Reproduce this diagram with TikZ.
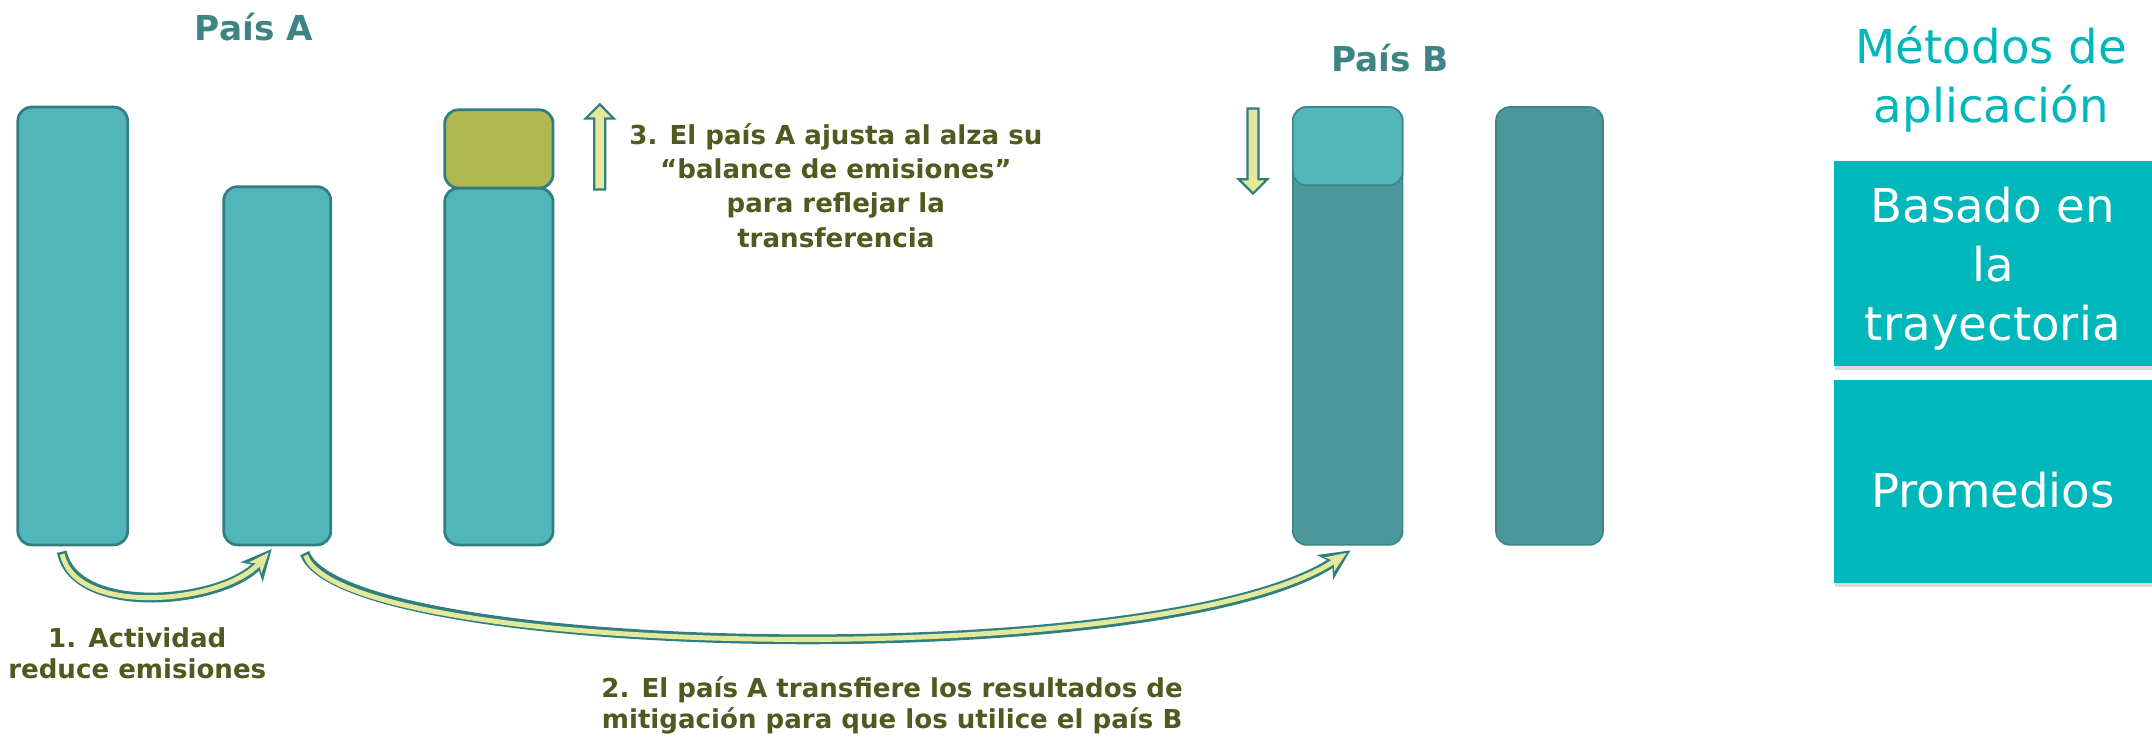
\documentclass[tikz,border=0pt]{standalone}
\usepackage{fontspec}
\setmainfont{DejaVu Sans}
\usetikzlibrary{shapes.arrows,arrows.meta,shadows}
\definecolor{tealL}{HTML}{52B5BA}
\definecolor{tealB}{HTML}{2F7E80}
\definecolor{tealD}{HTML}{4A989B}
\definecolor{tealDB}{HTML}{3E8587}
\definecolor{oliveF}{HTML}{B0B850}
\definecolor{ylw}{HTML}{E3E89A}
\definecolor{txtOl}{HTML}{4F5A1F}
\definecolor{titT}{HTML}{3D8585}
\definecolor{aqua}{HTML}{00B7BB}
\tikzset{
  bar/.style={draw=tealB, line width=1pt, fill=tealL, rounded corners=5pt, inner sep=0pt, outer sep=0pt, anchor=north west},
  darkbar/.style={draw=tealDB, line width=0.6pt, fill=tealD, rounded corners=5pt, inner sep=0pt, outer sep=0pt, anchor=north west},
  olivebox/.style={draw=tealB, line width=1pt, fill=oliveF, rounded corners=5pt, inner sep=0pt, outer sep=0pt, anchor=north west},
  lightbox/.style={draw=tealDB, line width=0.6pt, fill=tealL, rounded corners=5pt, inner sep=0pt, outer sep=0pt, anchor=north west},
  lbl/.style={text=txtOl, font=\bfseries\fontsize{9.5}{11}\selectfont, align=center, inner sep=0pt},
  lblb/.style={text=txtOl, font=\bfseries\fontsize{9.5}{12.5}\selectfont, align=center, inner sep=0pt},
  ctitle/.style={text=titT, font=\bfseries\fontsize{12.5}{15}\selectfont, inner sep=0pt},
  method/.style={fill=aqua, inner sep=0pt, outer sep=0pt, anchor=north west,
    drop shadow={shadow xshift=0.6pt, shadow yshift=-1.2pt, opacity=0.3}},
  methodtext/.style={text=white, inner sep=0pt, align=center, font=\fontsize{17}{21.5}\selectfont},
  blockarrow/.style={single arrow, draw=tealB, fill=ylw, line width=0.8pt, inner sep=1.6pt,
    single arrow head extend=3.2pt, single arrow head indent=0pt, minimum height=31pt},
  curveout/.style={draw=tealB, line width=3.6pt, -{Stealth[length=11pt,width=10.5pt,inset=3pt]}},
  curvein/.style={draw=ylw, line width=1.8pt, shorten <=0.9pt, shorten >=1.6pt, -{Stealth[length=7.5pt,width=6pt,inset=2pt]}}
}
\begin{document}
\begin{tikzpicture}[x=0.5pt,y=-0.5pt]
\useasboundingbox (0,0) rectangle (1568,538);
% titles
\node[ctitle] (titA) at (185,20) {País A};
\node[ctitle] (titB) at (1013,42) {País B};
% country A columns
\node[bar, minimum width=40pt, minimum height=159.5pt] (c1) at (13,78) {};
\node[bar, minimum width=39pt, minimum height=130.5pt] (c2) at (163,136) {};
\node[bar, minimum width=39.5pt, minimum height=130pt] (c3) at (324,137) {};
\node[olivebox, minimum width=39.5pt, minimum height=28.5pt] (c3t) at (324,80) {};
% country B columns
\node[darkbar, minimum width=40pt, minimum height=159.5pt] (c4) at (942,78) {};
\node[lightbox, minimum width=40pt, minimum height=28.5pt] (c4t) at (942,78) {};
\node[darkbar, minimum width=39pt, minimum height=159.5pt] (c5) at (1090,78) {};
% block arrows
\node[blockarrow, shape border rotate=90] (up) at (437,109) {};
\node[blockarrow, shape border rotate=270] (down) at (913,108) {};
% labels
\node[lblb] (t3) at (609,135) {3. El país A ajusta al alza su\\“balance de emisiones”\\para reflejar la\\transferencia};
\node[lbl] (t1) at (100,476) {1. Actividad\\reduce emisiones};
\node[lbl] (t2) at (650,514) {2. El país A transfiere los resultados de\\mitigación para que los utilice el país B};
% curved arrows
\coordinate (a1s) at ([xshift=-4pt,yshift=-2.5pt]c1.south);
\coordinate (a1e) at ([xshift=-2pt,yshift=-1.5pt]c2.south);
\coordinate (a2s) at ([xshift=10pt,yshift=-3pt]c2.south);
\coordinate (a2e) at ([xshift=1pt,yshift=-2pt]c4.south);
\draw[curveout] (a1s) .. controls ++(10,48) and ++(-35,40) .. (a1e);
\draw[curvein] (a1s) .. controls ++(10,48) and ++(-35,40) .. (a1e);
\draw[curveout] (a2s) .. controls ++(28,77) and ++(-135,90) .. (a2e);
\draw[curvein] (a2s) .. controls ++(28,77) and ++(-135,90) .. (a2e);
% right side
\node[text=aqua, align=center, inner sep=0pt, font=\fontsize{17}{21.5}\selectfont] (mt) at (1451,58) {Métodos de\\aplicación};
\node[method, minimum width=116pt, minimum height=75pt] (m1) at (1336,117) {};
\node[methodtext] (m1t) at ([yshift=-2pt]m1.center) {Basado en\\la\\trayectoria};
\node[method, minimum width=116pt, minimum height=74pt] (m2) at (1336,277) {};
\node[methodtext] (m2t) at ([yshift=-3pt]m2.center) {Promedios};
\end{tikzpicture}
\end{document}
